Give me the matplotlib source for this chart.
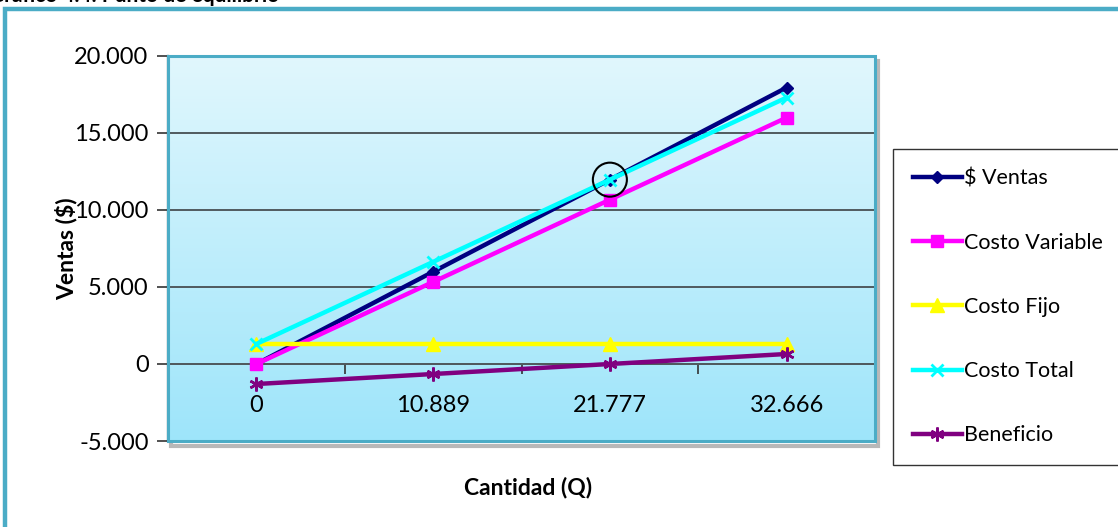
import numpy as np
import matplotlib.pyplot as plt
from matplotlib.patches import Rectangle
from matplotlib.ticker import FuncFormatter, FixedLocator

# values
cantidad = ["0", "10.889", "21.777", "32.666"]
ventas = [0, 5990, 11970, 17950]
costo_variable = [0, 5330, 10670, 16000]
costo_fijo = [1300, 1300, 1300, 1300]
costo_total = [1300, 6630, 11970, 17300]
beneficio = [-1300, -650, 0, 650]
equilibrio = (2, 11970)  # category index, value

plt.rcParams['font.family'] = ['Lato', 'DejaVu Sans']

fig = plt.figure(figsize=(11.18, 5.27), dpi=100)
ax = fig.add_axes([168 / 1118, 1 - 441 / 527, 707 / 1118, 385 / 527])

# gradient background of the plot area
grad = np.linspace(0, 1, 256).reshape(-1, 1)
top = np.array([225, 247, 253]) / 255
bot = np.array([158, 229, 250]) / 255
img = top + (bot - top) * grad[..., None]
ax.imshow(img.reshape(256, 1, 3), extent=[0, 1, 0, 1], transform=ax.transAxes,
          aspect='auto', zorder=0)

x = np.arange(len(cantidad)) + 0.5
ax.plot(x, ventas, color='#000080', lw=3.2, marker='D', ms=6, label='$ Ventas', zorder=3)
ax.plot(x, costo_variable, color='#FF00FF', lw=3.2, marker='s', ms=9, label='Costo Variable', zorder=3)
ax.plot(x, costo_fijo, color='#FFFF00', lw=3.2, marker='^', ms=10, label='Costo Fijo', zorder=3)
ax.plot(x, costo_total, color='#00FFFF', lw=3.2, marker='x', ms=8, mew=2, label='Costo Total', zorder=3)
ax.plot(x, beneficio, color='#800080', lw=3.2, marker=(6, 2, 0), ms=10, mew=1.8, label='Beneficio', zorder=4)

# circle marking the break-even point
ax.scatter([equilibrio[0] + 0.5], [equilibrio[1]], s=600, facecolors='none',
           edgecolors='black', linewidths=1.5, zorder=6)

ax.set_xlim(0, 4)
ax.set_ylim(-5000, 20000)
ax.set_yticks(range(-5000, 20001, 5000))
ax.yaxis.set_major_formatter(FuncFormatter(lambda v, p: f"{int(v):,}".replace(",", ".")))
ax.grid(axis='y', color='#505a5e', lw=1.4, zorder=1)
ax.set_axisbelow(True)

ax.xaxis.set_major_locator(FixedLocator([1, 2, 3]))
ax.xaxis.set_major_formatter(FuncFormatter(lambda v, p: ""))
ax.xaxis.set_minor_locator(FixedLocator(x))
ax.set_xticklabels(cantidad, minor=True)
ax.tick_params(axis='x', which='major', length=7, width=1.2, color='#333333', direction='out')
ax.tick_params(axis='x', which='minor', length=0, pad=22, labelsize=17)
ax.tick_params(axis='y', length=8, width=1.2, color='#333333', labelsize=17, pad=6)

for s in ['top', 'right']:
    ax.spines[s].set_visible(False)
ax.spines['bottom'].set_position(('data', 0))
ax.spines['bottom'].set_color('#505a5e')
ax.spines['bottom'].set_linewidth(1.4)
ax.spines['left'].set_color('#1f3a44')
ax.spines['left'].set_linewidth(1.6)

# plot-area border and its shadow
ax.add_patch(Rectangle((0.004, -0.012), 1.0, 1.0, transform=ax.transAxes, fill=False,
                       ec='#b8b8b8', lw=3, clip_on=False, zorder=-1))
ax.add_patch(Rectangle((0, 0), 1, 1, transform=ax.transAxes, fill=False,
                       ec='#4bacc6', lw=2.2, clip_on=False, zorder=5))

ax.set_ylabel('Ventas ($)', fontsize=16.5, fontweight='bold')
ax.yaxis.set_label_coords(-0.128, 0.5)
fig.text(528 / 1118, 1 - 487 / 527, 'Cantidad (Q)', fontsize=16.5, fontweight='bold',
         ha='center', va='center')

leg = ax.legend(loc='center', bbox_to_anchor=(1008 / 1118, 1 - 307 / 527),
                bbox_transform=fig.transFigure, frameon=True, fancybox=False,
                edgecolor='black', fontsize=15.5, labelspacing=2.05,
                handlelength=2.3, handletextpad=0.1, borderpad=0.9, borderaxespad=0)
leg.get_frame().set_linewidth(1.0)

# outer chart frame
fig.patches.append(Rectangle((5 / 1118, -0.2), 1.2, 1 - 8.5 / 527 + 0.2,
                             transform=fig.transFigure, fill=False, ec='#4bacc6', lw=3.2))
fig.text(-0.01, 1 - 2 / 527, 'Gráfico 4.4: Punto de equilibrio', fontsize=15,
         fontweight='bold', ha='left', va='baseline')

fig.savefig('out.png', dpi=100)
